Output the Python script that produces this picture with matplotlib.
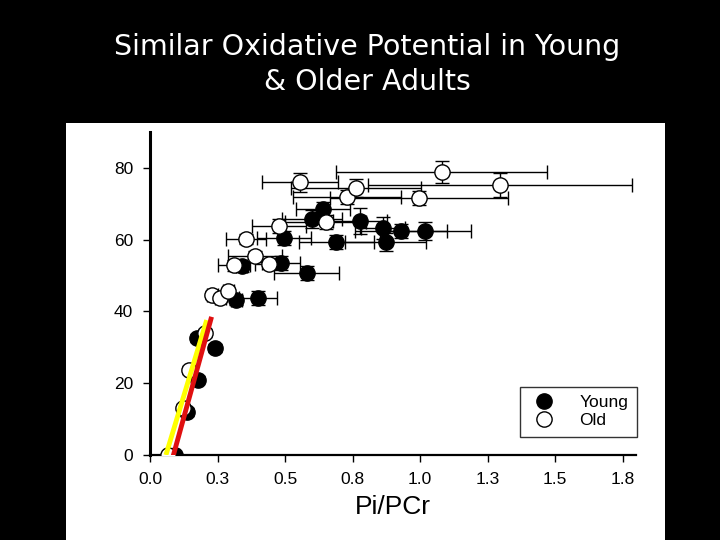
import matplotlib
matplotlib.use('Agg')
import matplotlib.pyplot as plt
from matplotlib.patches import Rectangle
from matplotlib.lines import Line2D

# young subjects (filled circles)
young_x = [0.093, 0.137, 0.178, 0.174, 0.24, 0.32, 0.40, 0.34, 0.485, 0.58,
           0.496, 0.60, 0.64, 0.69, 0.778, 0.863, 0.874, 0.93, 1.02]
young_y = [0.0, 12.0, 21.0, 32.6, 29.8, 43.2, 43.7, 52.6, 53.5, 50.7,
           60.4, 65.7, 68.5, 59.3, 65.2, 63.2, 59.3, 62.4, 62.4]
young_xerr = [0.01, 0.01, 0.01, 0.01, 0.01, 0.02, 0.07, 0.02, 0.07, 0.12,
              0.10, 0.11, 0.10, 0.14, 0.10, 0.08, 0.15, 0.17, 0.17]
young_yerr = [0.5, 1.0, 1.0, 1.0, 1.0, 1.5, 2.0, 1.5, 2.0, 2.0,
              2.0, 2.5, 2.0, 2.0, 3.5, 3.0, 2.5, 2.0, 2.5]

# older subjects (open circles)
old_x = [0.067, 0.122, 0.144, 0.205, 0.23, 0.26, 0.29, 0.31, 0.39, 0.44,
         0.356, 0.478, 0.65, 0.556, 0.73, 0.763, 0.996, 1.08, 1.296]
old_y = [0.0, 13.1, 23.7, 34.0, 44.6, 43.7, 45.6, 52.9, 55.4, 53.2,
         60.2, 63.8, 64.9, 76.0, 71.9, 74.4, 71.6, 78.8, 75.2]
old_xerr = [0.01, 0.01, 0.01, 0.01, 0.02, 0.02, 0.02, 0.06, 0.10, 0.05,
            0.075, 0.10, 0.15, 0.14, 0.20, 0.24, 0.33, 0.39, 0.49]
old_yerr = [0.5, 1.0, 1.0, 1.0, 1.0, 1.0, 1.0, 1.5, 1.5, 1.5,
            1.5, 2.0, 2.0, 2.7, 2.0, 2.5, 2.0, 3.1, 3.3]

# linear fits of the initial slope
yellow_x = [0.059, 0.21]
yellow_y = [0.0, 37.6]
red_x = [0.085, 0.228]
red_y = [-0.5, 38.5]

x_ticks = [0.0, 0.25, 0.5, 0.75, 1.0, 1.25, 1.5, 1.75]
x_ticklabels = ['0.0', '0.3', '0.5', '0.8', '1.0', '1.3', '1.5', '1.8']
y_ticks = [0, 20, 40, 60, 80]

plt.rcParams['font.family'] = ['Liberation Sans', 'DejaVu Sans']

fig = plt.figure(figsize=(7.2, 5.4), dpi=100, facecolor='black')
# white slide panel
fig.patches.append(Rectangle((66 / 720, 0), (665 - 66) / 720, (540 - 123) / 540,
                             transform=fig.transFigure, facecolor='white',
                             edgecolor='none', zorder=-1))

fig.text(0.51, 0.881, 'Similar Oxidative Potential in Young\n& Older Adults',
         ha='center', va='center', color='white', fontsize=20.5,
         family='DejaVu Sans', linespacing=1.3)

ax = fig.add_axes([150 / 720, 85 / 540, 486 / 720, 323 / 540])
ax.set_zorder(1)
ax.set_facecolor('none')

ax.errorbar(young_x, young_y, xerr=young_xerr, yerr=young_yerr, fmt='o',
            color='black', ms=11, mfc='black', mec='black', ecolor='black',
            elinewidth=1, capsize=5, capthick=1, zorder=3)
ax.errorbar(old_x, old_y, xerr=old_xerr, yerr=old_yerr, fmt='o',
            color='black', ms=11, mfc='white', mec='black', mew=1,
            ecolor='black', elinewidth=1, capsize=5, capthick=1, zorder=4)

ax.plot(yellow_x, yellow_y, color='#ffff00', lw=3.5, solid_capstyle='butt', zorder=6)
ax.plot(red_x, red_y, color='#e01010', lw=3.5, solid_capstyle='butt', zorder=7)

ax.set_xlim(0, 1.8)
ax.set_ylim(0, 90)
ax.set_xticks(x_ticks)
ax.set_xticklabels(x_ticklabels)
ax.set_yticks(y_ticks)
ax.tick_params(axis='both', labelsize=12.5, direction='out', length=5, width=1,
               pad=7)
ax.spines['top'].set_visible(False)
ax.spines['right'].set_visible(False)
ax.spines['left'].set_linewidth(2.2)
ax.spines['bottom'].set_linewidth(1.6)
ax.set_xlabel('Pi/PCr', fontsize=19, labelpad=6)

handles = [Line2D([], [], ls='none', marker='o', ms=11, mfc='black', mec='black'),
           Line2D([], [], ls='none', marker='o', ms=11, mfc='white', mec='black')]
leg = ax.legend(handles, ['Young', 'Old'], loc='lower right',
                bbox_to_anchor=(1.002, 0.056), borderaxespad=0, fontsize=12.5,
                frameon=True, fancybox=False, handletextpad=1.2,
                borderpad=0.5, labelspacing=0.15, handlelength=1.7)
leg.get_frame().set_edgecolor('black')
leg.get_frame().set_linewidth(1)
leg.set_zorder(10)

plt.savefig('out.png', dpi=100, facecolor='black')
